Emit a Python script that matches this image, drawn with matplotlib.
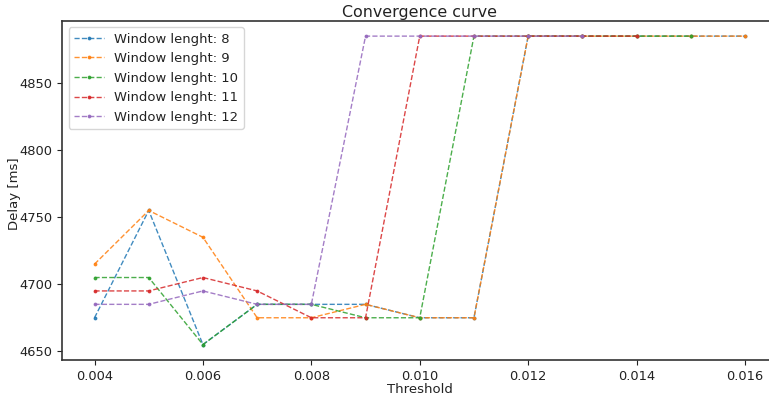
import matplotlib
matplotlib.use("Agg")
import matplotlib.pyplot as plt

thresholds = [0.004, 0.005, 0.006, 0.007, 0.008, 0.009, 0.010, 0.011, 0.012, 0.013, 0.014, 0.015, 0.016]

delay_w8 = [4675, 4755, 4655, 4685, 4685, 4685, 4675, 4675, 4885, 4885, 4885, 4885, 4885]
delay_w9 = [4715, 4755, 4735, 4675, 4675, 4685, 4675, 4675, 4885, 4885, 4885, 4885, 4885]
delay_w10 = [4705, 4705, 4655, 4685, 4685, 4675, 4675, 4885, 4885, 4885, 4885, 4885]
delay_w11 = [4695, 4695, 4705, 4695, 4675, 4675, 4885, 4885, 4885, 4885, 4885]
delay_w12 = [4685, 4685, 4695, 4685, 4685, 4885, 4885, 4885, 4885, 4885]

series = [
    ("Window lenght: 8", delay_w8),
    ("Window lenght: 9", delay_w9),
    ("Window lenght: 10", delay_w10),
    ("Window lenght: 11", delay_w11),
    ("Window lenght: 12", delay_w12),
]

fig = plt.figure(figsize=(7.69, 3.97), dpi=100)
ax = fig.add_axes([62 / 769, 1 - 360 / 397, (777.5 - 62) / 769, (360 - 20.7) / 397])

for label, vals in series:
    ax.plot(thresholds[:len(vals)], vals, linestyle="--", marker=".", markersize=3.5,
            linewidth=1.0, alpha=0.85, label=label)

ax.set_xticks([0.004, 0.006, 0.008, 0.010, 0.012, 0.014, 0.016])
ax.set_xticklabels(["0.004", "0.006", "0.008", "0.010", "0.012", "0.014", "0.016"])
ax.set_yticks([4650, 4700, 4750, 4800, 4850])
ax.tick_params(labelsize=9.4, colors="#222222")
ax.set_xlabel("Threshold", fontsize=9.5, labelpad=0, color="#222222")
ax.set_ylabel("Delay [ms]", fontsize=9.5, color="#222222")
ax.yaxis.set_label_coords((21 - 62) / 715.5, 0.49)
ax.set_title("Convergence curve", fontsize=11.4, pad=3, color="#222222")
for s in ax.spines.values():
    s.set_linewidth(1.2)
    s.set_color("#333333")
leg = ax.legend(loc="upper left", fontsize=9.45, handlelength=2.3)
for t in leg.get_texts():
    t.set_color("#222222")

fig.savefig("out.png", dpi=100)
